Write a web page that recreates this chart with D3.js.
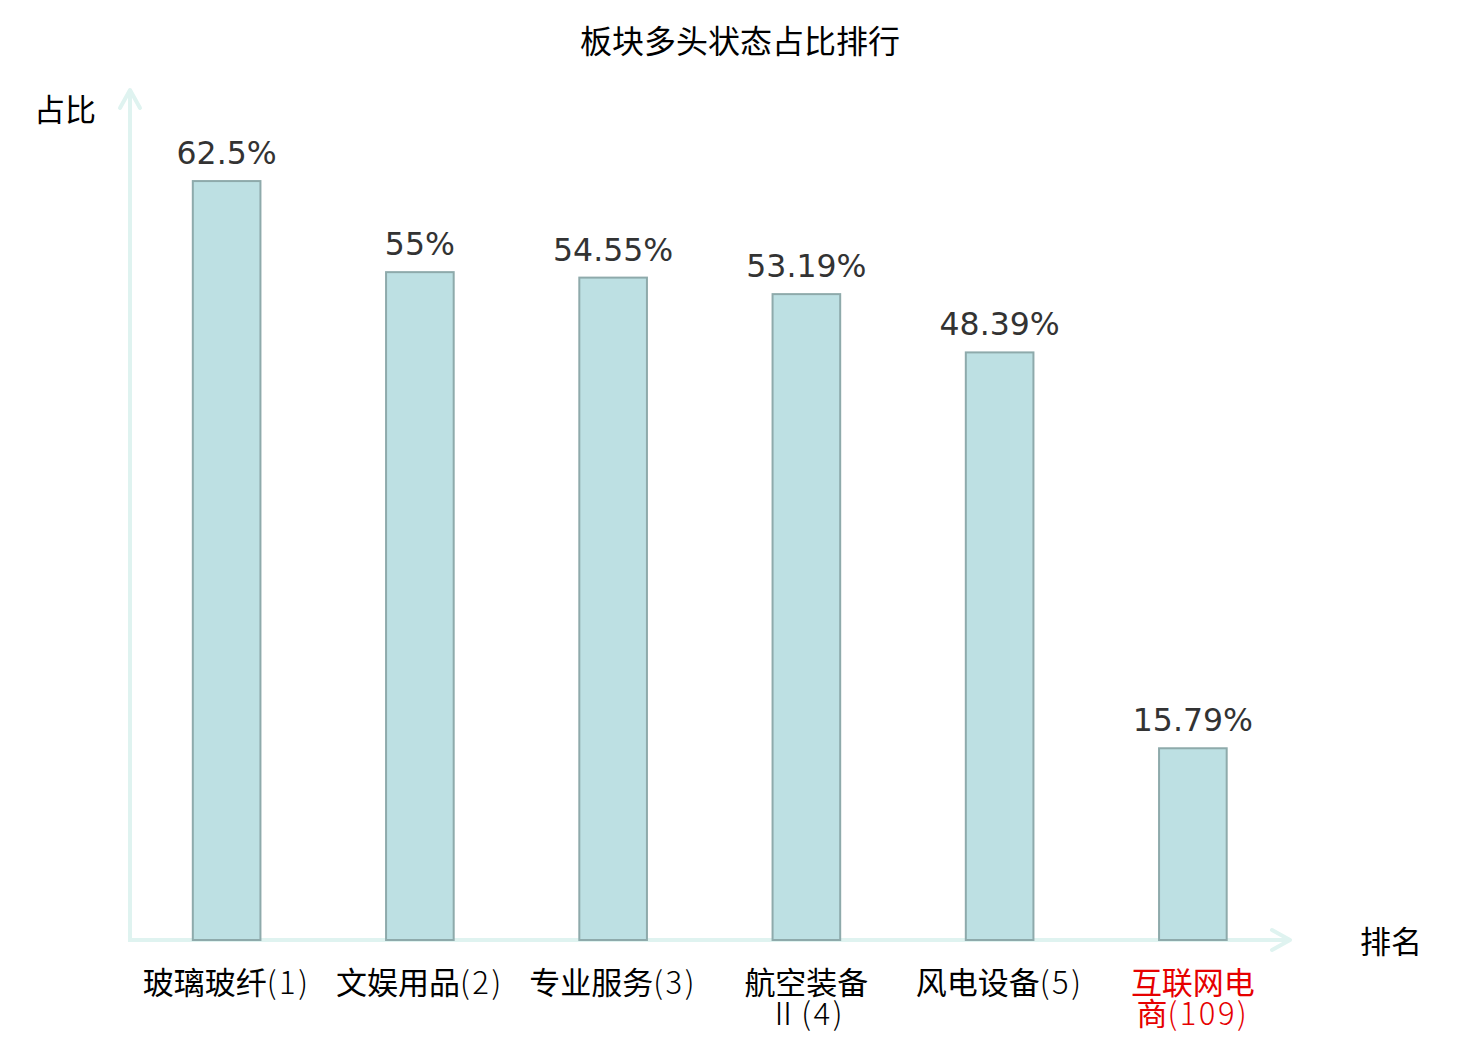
<!DOCTYPE html>
<html><head><meta charset="utf-8">
<script src="https://cdn.jsdelivr.net/npm/d3@7/dist/d3.min.js"></script>
<style>body{margin:0;background:#fff}svg{display:block}</style>
</head><body>
<svg id="c" width="1480" height="1040"></svg>
<script>
const categories = ["玻璃玻纤(1)", "文娱用品(2)", "专业服务(3)", "航空装备Ⅱ(4)", "风电设备(5)", "互联网电商(109)"];
const labelLines = [["玻璃玻纤(1)"], ["文娱用品(2)"], ["专业服务(3)"], ["航空装备", "Ⅱ(4)"], ["风电设备(5)"], ["互联网电", "商(109)"]];
const values = [62.5, 55, 54.55, 53.19, 48.39, 15.79];
const valueLabels = ["62.5%", "55%", "54.55%", "53.19%", "48.39%", "15.79%"];
const labelColors = ["#000", "#000", "#000", "#000", "#000", "#e60000"];
const yDomain = [0, 70];

const svg = d3.select("#c");
const cjk = "'Noto Sans CJK SC','DejaVu Sans',sans-serif";
const num = "'DejaVu Sans','Noto Sans CJK SC',sans-serif";
const x0 = 130, x1 = 1290, yb = 940, yt = 90;

const x = d3.scaleBand().domain(categories).range([x0, x1 - 0.5]).paddingInner(0.65).paddingOuter(0.325);
const y = d3.scaleLinear().domain(yDomain).range([yb, yt]);

svg.append("text").attr("x", 740).attr("y", 53).attr("text-anchor", "middle")
  .style("font-family", cjk).style("font-size", "32px").attr("fill", "#000").text("板块多头状态占比排行");

const axisColor = "#dff3f0";
svg.append("line").attr("x1", x0).attr("y1", yb + 2).attr("x2", x0).attr("y2", yt).attr("stroke", axisColor).attr("stroke-width", 4);
svg.append("polyline").attr("points", `${x0-10},${yt+18} ${x0},${yt} ${x0+10},${yt+18}`).attr("fill", "none").attr("stroke", axisColor).attr("stroke-width", 4).attr("stroke-linecap", "round").attr("stroke-linejoin", "round");
svg.append("line").attr("x1", x0 - 2).attr("y1", yb).attr("x2", x1).attr("y2", yb).attr("stroke", axisColor).attr("stroke-width", 4);
svg.append("polyline").attr("points", `${x1-18},${yb-10} ${x1},${yb} ${x1-18},${yb+10}`).attr("fill", "none").attr("stroke", axisColor).attr("stroke-width", 4).attr("stroke-linecap", "round").attr("stroke-linejoin", "round");

svg.append("text").attr("x", 34).attr("y", 121).style("font-family", cjk).style("font-size", "31px").attr("fill", "#000").text("占比");
svg.append("text").attr("x", 1360).attr("y", 953).style("font-family", cjk).style("font-size", "31px").attr("fill", "#000").text("排名");

svg.selectAll("rect.bar").data(values).join("rect").attr("class", "bar")
  .attr("x", (d, i) => x(categories[i]))
  .attr("y", d => y(d))
  .attr("width", x.bandwidth())
  .attr("height", d => yb - y(d))
  .attr("fill", "#bde0e3").attr("stroke", "#8eaaab").attr("stroke-width", 2);

svg.selectAll("text.val").data(values).join("text").attr("class", "val")
  .attr("x", (d, i) => x(categories[i]) + x.bandwidth() / 2)
  .attr("y", d => y(d) - 17)
  .attr("text-anchor", "middle")
  .style("font-family", num).style("font-size", "31.5px").attr("fill", "#333")
  .text((d, i) => valueLabels[i]);

svg.selectAll("text.cat").data(categories).join("text").attr("class", "cat")
  .attr("text-anchor", "middle")
  .style("font-family", cjk).style("font-size", "31px")
  .attr("fill", (d, i) => labelColors[i])
  .each(function (d, i) {
    const cx = x(d) + x.bandwidth() / 2;
    const t = d3.select(this);
    labelLines[i].forEach((line, j) => {
      const m = line.match(/^([^(Ⅱ]*)(.*)$/);
      t.append("tspan").attr("x", cx).attr("y", 994 + j * 31).text(m[1]);
      if (m[2]) {
        const ts = t.append("tspan").style("font-weight", 300).style("letter-spacing", "2.5px").text(m[2]);
        if (!m[1]) ts.attr("x", cx).attr("y", 994 + j * 31);
      }
    });
  });
</script>
</body></html>
